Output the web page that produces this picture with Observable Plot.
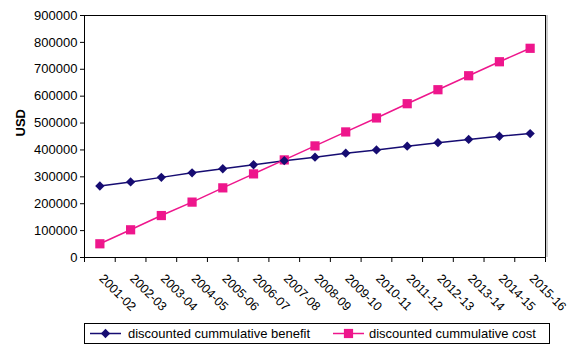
<!DOCTYPE html>
<html>
<head>
<meta charset="utf-8">
<script src="https://cdn.jsdelivr.net/npm/d3@7"></script>
<script src="https://cdn.jsdelivr.net/npm/@observablehq/plot@0.6"></script>
<style>
  body { margin: 0; background: #fff; font-family: Arial, "Liberation Sans", sans-serif; }
  #wrap { position: relative; width: 579px; height: 346px; }
  #legend { position: absolute; left: 84px; top: 323px; width: 466px; height: 21px;
            border: 1px solid #000; box-sizing: border-box; font-size: 13px; color: #000; }
  #legend .item { display: flex; align-items: center; position: absolute; top: 0; height: 19px; }
  #legend svg { display: block; }
</style>
</head>
<body>
<div id="wrap"><div id="chart"></div><div id="legend"></div></div>
<script>
const years = ["2001-02","2002-03","2003-04","2004-05","2005-06","2006-07","2007-08","2008-09","2009-10","2010-11","2011-12","2012-13","2013-14","2014-15","2015-16"];
const benefit = [266000, 281000, 298000, 315000, 330000, 345000, 360000, 373000, 388000, 400000, 414000, 427000, 439000, 451000, 461000];
const cost = [51000, 103000, 156000, 206000, 259000, 311000, 363000, 415000, 467000, 519000, 572000, 624000, 676000, 728000, 778000];
const yTicks = [0,100000,200000,300000,400000,500000,600000,700000,800000,900000];
const seriesNames = ["discounted cummulative benefit", "discounted cummulative cost"];
const colors = ["#160c72", "#ee168c"];

const rows = [];
years.forEach((yr, i) => {
  rows.push({i, year: yr, value: benefit[i], s: seriesNames[0]});
  rows.push({i, year: yr, value: cost[i], s: seriesNames[1]});
});
const boundaries = d3.range(-0.5, years.length, 1);

const chart = Plot.plot({
  width: 579,
  height: 318,
  marginLeft: 84,
  marginRight: 34,
  marginTop: 15,
  marginBottom: 61,
  style: {fontFamily: "Arial, 'Liberation Sans', sans-serif", fontSize: "13px", color: "#000", background: "#fff"},
  x: {type: "linear", domain: [-0.5, years.length - 0.5]},
  y: {domain: [0, 900000]},
  color: {domain: seriesNames, range: colors},
  marks: [
    Plot.ruleX([years.length - 0.5], {stroke: "#999", strokeWidth: 1, dx: 1.5}),
    Plot.frame({stroke: "#000", strokeWidth: 1}),
    Plot.axisY({ticks: yTicks, tickSize: 4, tickPadding: 3, tickFormat: d => String(d), label: null, fontSize: 13}),
    Plot.axisX({ticks: boundaries, tickSize: 5, tickFormat: () => "", label: null}),
    Plot.text(years, {x: (d, i) => i, y: 0, text: d => d, rotate: 45, textAnchor: "start", dy: 19, dx: 1.5, fontSize: 12.5, fill: "#000"}),
    Plot.text(["USD"], {frameAnchor: "left", dx: -64, rotate: -90, fontWeight: "bold", fontSize: 13, fill: "#000"}),
    Plot.line(rows, {x: "i", y: "value", z: "s", stroke: "s", strokeWidth: 1.5}),
    Plot.dot(rows.filter(d => d.s === seriesNames[1]), {x: "i", y: "value", fill: "s", symbol: "square", r: 5.2, stroke: null}),
    Plot.dot(rows.filter(d => d.s === seriesNames[0]), {x: "i", y: "value", fill: "s", symbol: "diamond2", r: 4.2, stroke: null})
  ]
});
document.getElementById("chart").appendChild(chart);

// legend
const legend = document.getElementById("legend");
const swatchSyms = [d3.symbolDiamond2, d3.symbolSquare];
const swatchSizes = [Math.PI * 4.2 * 4.2, Math.PI * 5.2 * 5.2];
const lefts = [5, 248];
const gaps = [7, 5];
seriesNames.forEach((name, k) => {
  const item = document.createElement("div");
  item.className = "item";
  item.style.left = lefts[k] + "px";
  const svg = d3.create("svg").attr("width", 31).attr("height", 19);
  svg.append("line").attr("x1", 0).attr("x2", 31).attr("y1", 9.5).attr("y2", 9.5).attr("stroke", colors[k]).attr("stroke-width", 1.5);
  svg.append("path").attr("d", d3.symbol(swatchSyms[k], swatchSizes[k])()).attr("transform", "translate(15.5,9.5)").attr("fill", colors[k]);
  item.appendChild(svg.node());
  const t = document.createElement("span");
  t.textContent = name;
  t.style.marginLeft = gaps[k] + "px";
  item.appendChild(t);
  legend.appendChild(item);
});
</script>
</body>
</html>
